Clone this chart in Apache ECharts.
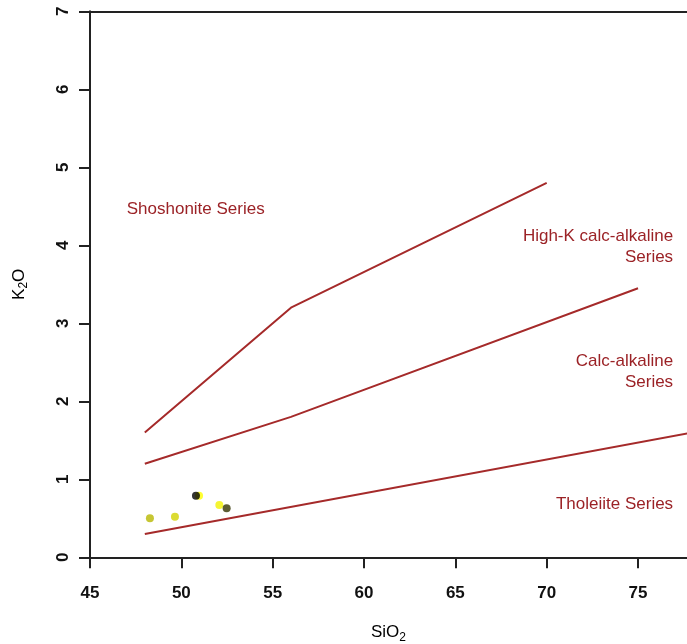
<!DOCTYPE html>
<html>
<head>
<meta charset="utf-8">
<script src="https://cdn.jsdelivr.net/npm/echarts@6/dist/echarts.min.js"></script>
<style>
html,body{margin:0;padding:0;background:#fff;}
#chart{width:687px;height:644px;}
</style>
</head>
<body>
<div id="chart"></div>
<script>
// ---- data ----
const xTickValues = [45, 50, 55, 60, 65, 70, 75];
const yTickValues = [0, 1, 2, 3, 4, 5, 6, 7];
const tholeiiteBoundary = [[48, 0.3], [78, 1.6]];
const calcAlkalineBoundary = [[48, 1.2], [56, 1.8], [75, 3.45]];
const highKBoundary = [[48, 1.6], [56, 3.2], [70, 4.8]];
const sampleSiO2 = [48.28, 49.65, 50.97, 50.80, 52.08, 52.48];
const sampleK2O = [0.50, 0.52, 0.79, 0.79, 0.67, 0.63];
const regionNames = ['Shoshonite Series', 'High-K calc-alkaline\nSeries', 'Calc-alkaline\nSeries', 'Tholeiite Series'];
const regionAnchors = [[47.01, 4.465], [76.92, 3.98], [76.92, 2.376], [76.92, 0.683]];

// ---- styles ----
const sampleColors = ['#b8b800', '#d2d200', '#ffff00', '#000000', '#f2f200', '#333300'];
const regionAlign = ['left', 'right', 'right', 'right'];
const lineColor = '#a52a2a';
const textColor = '#9b2226';
const axisColor = '#222';
const FONT = '"Liberation Sans", Arial, sans-serif';

const chart = echarts.init(document.getElementById('chart'), null, {renderer: 'canvas'});

const nameRich = {
  m: {fontSize: 17, lineHeight: 22, color: '#000', fontFamily: FONT},
  s: {fontSize: 12, lineHeight: 12, verticalAlign: 'bottom', color: '#000', fontFamily: FONT}
};

const lineSeries = (d) => ({
  type: 'line', data: d, showSymbol: false, symbol: 'none', clip: true,
  lineStyle: {color: lineColor, width: 2}, silent: true, z: 2
});

const option = {
  animation: false,
  backgroundColor: '#fff',
  grid: {left: 90, right: 0, top: 11.3, bottom: 86.7, containLabel: false, outerBoundsMode: 'none'},
  xAxis: [{
    type: 'value', min: 45, max: 77.68, interval: 5,
    splitLine: {show: false},
    axisLine: {show: true, onZero: false, lineStyle: {color: axisColor, width: 2}},
    axisTick: {show: true, length: 11, lineStyle: {color: axisColor, width: 2}},
    axisLabel: {
      margin: 28, fontSize: 17, fontWeight: 'bold', color: '#111', fontFamily: FONT, showMaxLabel: false,
      formatter: v => xTickValues.indexOf(v) >= 0 ? String(v) : ''
    },
    name: '{m|SiO}{s|2}', nameLocation: 'middle', nameGap: 64,
    nameTextStyle: {rich: nameRich}
  }, {
    type: 'value', position: 'top', min: 45, max: 77.68,
    splitLine: {show: false}, axisTick: {show: false}, axisLabel: {show: false},
    axisLine: {show: true, onZero: false, lineStyle: {color: axisColor, width: 2}}
  }],
  yAxis: {
    type: 'value', min: 0, max: 7, interval: 1,
    splitLine: {show: false},
    axisLine: {show: true, onZero: false, lineStyle: {color: axisColor, width: 2}},
    axisTick: {show: true, length: 11, lineStyle: {color: axisColor, width: 2}},
    axisLabel: {
      margin: 18, fontSize: 17, fontWeight: 'bold', color: '#111', fontFamily: FONT, rotate: 90,
      formatter: v => yTickValues.indexOf(v) >= 0 ? String(v) : ''
    },
    name: '{m|K}{s|2}{m|O}', nameLocation: 'middle', nameGap: 60, nameRotate: 90,
    nameTextStyle: {rich: nameRich}
  },
  series: [
    lineSeries(tholeiiteBoundary),
    lineSeries(calcAlkalineBoundary),
    lineSeries(highKBoundary),
    {
      type: 'scatter', symbol: 'circle', symbolSize: 8, z: 3,
      data: sampleSiO2.map((x, i) => ({value: [x, sampleK2O[i]], itemStyle: {color: sampleColors[i]}}))
    }
  ]
};
chart.setOption(option);

const graphics = regionNames.map((t, i) => {
  const p = chart.convertToPixel({xAxisIndex: 0, yAxisIndex: 0}, regionAnchors[i]);
  return {
    type: 'text', x: p[0], y: p[1], z: 10,
    style: {
      text: t, fill: textColor, font: '17px ' + FONT,
      textAlign: regionAlign[i], textVerticalAlign: 'middle', lineHeight: 21, align: regionAlign[i], verticalAlign: 'middle'
    }
  };
});
chart.setOption({graphic: graphics});
</script>
</body>
</html>
